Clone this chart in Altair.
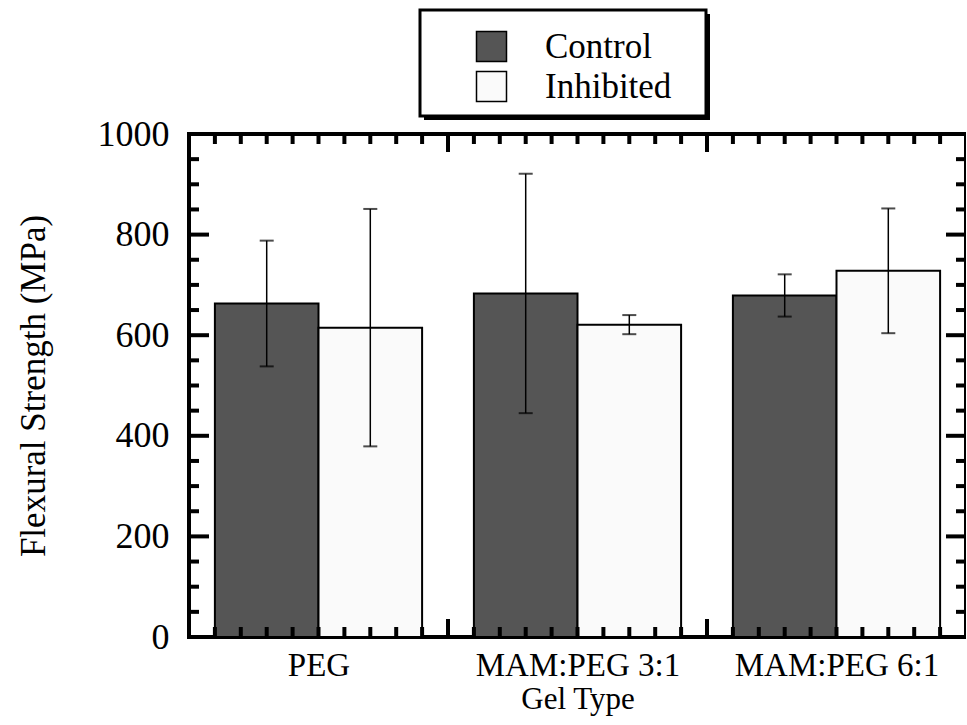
import altair as alt
import pandas as pd

# ---- data ----
groups = ["PEG", "MAM:PEG 3:1", "MAM:PEG 6:1"]
series = ["Control", "Inhibited"]
control_mean = [663, 683, 679]
control_err = [125, 238, 42]
inhibited_mean = [615, 621, 728]
inhibited_err = [236, 19, 124]
y_major = [0, 200, 400, 600, 800, 1000]
y_minor = [v for v in range(0, 1001, 50) if v % 200 != 0]
x_major = [1, 2]
x_minor = [round(i / 10, 1) for i in range(1, 30) if i % 10 != 0]

rows = []
for i, g in enumerate(groups):
    means = [control_mean[i], inhibited_mean[i]]
    errs = [control_err[i], inhibited_err[i]]
    for j, s in enumerate(series):
        x0 = i + 0.1 + 0.4 * j
        rows.append(dict(group=g, series=s, x0=x0, x1=x0 + 0.4, xc=x0 + 0.2,
                         mean=means[j], lo=means[j] - errs[j], hi=means[j] + errs[j]))
df = pd.DataFrame(rows)

W, H = 777, 503
LEFT, TOP = 189, 134
FONT = "Liberation Serif"

xscale = alt.Scale(domain=[0, 3], nice=False, zero=False)
yscale = alt.Scale(domain=[0, 1000], nice=False)

label_expr = " : ".join(
    f"datum.value < {i + 1} ? '{g}'" for i, g in enumerate(groups[:-1])
) + f" : '{groups[-1]}'"

xaxis = alt.Axis(values=[i + 0.5 for i in range(len(groups))], labelExpr=label_expr,
                 title="Gel Type", ticks=False, domain=False, grid=False, labelLimit=0,
                 labelFont=FONT, labelFontSize=33, labelPadding=12,
                 labelColor="black", titleFont=FONT, titleFontSize=31,
                 titleFontWeight="normal", titleColor="black", titlePadding=2)
yaxis = alt.Axis(values=y_major, format="d", title="Flexural Strength (MPa)", ticks=False,
                 domain=False, grid=False, labelFont=FONT, labelFontSize=36,
                 labelPadding=20, labelColor="black", titleFont=FONT,
                 titleFontSize=35, titleFontWeight="normal", titleColor="black",
                 titlePadding=46)

one = pd.DataFrame({"a": [0]})
shadow = alt.Chart(one).mark_rect(fill="black").encode(
    x=alt.value(420 - LEFT + 4), x2=alt.value(706 - LEFT + 4),
    y=alt.value(10 - TOP + 4), y2=alt.value(116 - TOP + 4))
box = alt.Chart(one).mark_rect(fill="white", stroke="black", strokeWidth=3).encode(
    x=alt.value(420 - LEFT), x2=alt.value(706 - LEFT),
    y=alt.value(10 - TOP), y2=alt.value(116 - TOP))

bars = alt.Chart(df).mark_bar(stroke="black", strokeWidth=2).encode(
    x=alt.X("x0:Q", scale=xscale, axis=xaxis),
    x2="x1:Q",
    y=alt.Y("mean:Q", scale=yscale, axis=yaxis),
    y2=alt.datum(0),
    color=alt.Color("series:N",
                    scale=alt.Scale(domain=series, range=["#555555", "#fafafa"]),
                    legend=alt.Legend(orient="none", legendX=474 - LEFT, legendY=29 - TOP,
                                      title=None, padding=0, symbolType="square",
                                      symbolSize=900, symbolStrokeColor="black",
                                      symbolStrokeWidth=1.5, labelFont=FONT,
                                      labelFontSize=35, labelColor="black",
                                      labelOffset=36, rowPadding=3)),
)

err = alt.Chart(df).mark_rule(color="black", strokeWidth=1.5).encode(
    x=alt.X("xc:Q", scale=xscale), y=alt.Y("lo:Q", scale=yscale), y2="hi:Q")
cap_hi = alt.Chart(df).mark_tick(orient="horizontal", size=14, thickness=2, color="black").encode(
    x=alt.X("xc:Q", scale=xscale), y=alt.Y("hi:Q", scale=yscale))
cap_lo = alt.Chart(df).mark_tick(orient="horizontal", size=14, thickness=2, color="black").encode(
    x=alt.X("xc:Q", scale=xscale), y=alt.Y("lo:Q", scale=yscale))

tick_layers = []
for vals, ln in [(y_minor, 10), (y_major, 20)]:
    d = pd.DataFrame({"v": [v for v in vals if 0 < v < 1000]})
    tick_layers.append(alt.Chart(d).mark_rule(color="black", strokeWidth=4).encode(
        y=alt.Y("v:Q", scale=yscale), x=alt.value(0), x2=alt.value(ln)))
    tick_layers.append(alt.Chart(d).mark_rule(color="black", strokeWidth=4).encode(
        y=alt.Y("v:Q", scale=yscale), x=alt.value(W - ln), x2=alt.value(W)))
for vals, ln in [(x_minor, 10), (x_major, 18)]:
    d = pd.DataFrame({"v": vals})
    tick_layers.append(alt.Chart(d).mark_rule(color="black", strokeWidth=4).encode(
        x=alt.X("v:Q", scale=xscale), y=alt.value(0), y2=alt.value(ln)))
    tick_layers.append(alt.Chart(d).mark_rule(color="black", strokeWidth=4).encode(
        x=alt.X("v:Q", scale=xscale), y=alt.value(H - ln), y2=alt.value(H)))

chart = alt.layer(shadow, box, bars, err, cap_hi, cap_lo, *tick_layers).properties(
    width=W, height=H,
    autosize=alt.AutoSizeParams(type="none"),
    padding={"left": LEFT, "top": TOP, "right": 0, "bottom": 80},
    background="white",
).configure_view(stroke="black", strokeWidth=4)

chart.save("out.html", embed_options={"renderer": "svg", "actions": False})
